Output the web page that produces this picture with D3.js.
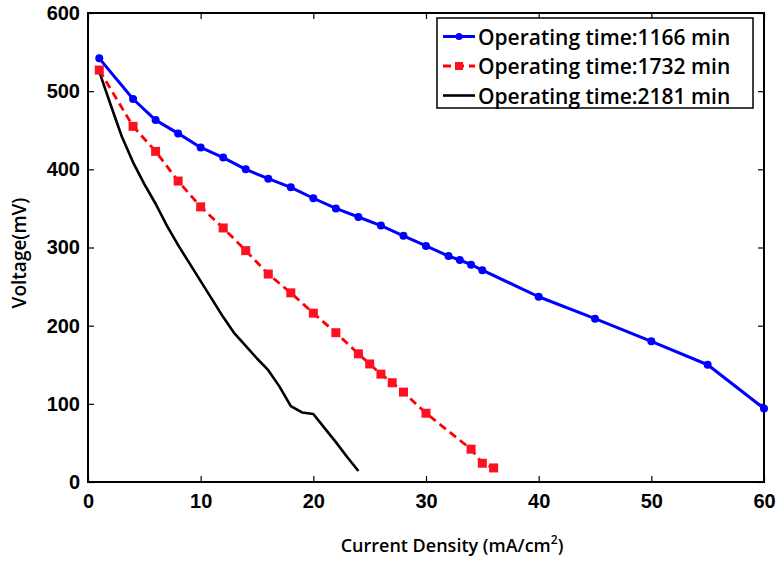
<!DOCTYPE html>
<html>
<head>
<meta charset="utf-8">
<script src="https://cdn.jsdelivr.net/npm/d3@7/dist/d3.min.js"></script>
<style>
  html, body { margin: 0; padding: 0; background: #fff; }
  svg { display: block; font-family: "Open Sans", "DejaVu Sans", sans-serif; }
</style>
</head>
<body>
<svg id="chart" width="778" height="561"></svg>
<script>
// Polarization curves at three operating times
const currentA = [1, 4, 6, 8, 10, 12, 14, 16, 18, 20, 22, 24, 26, 28, 30, 32, 33, 34, 35, 40, 45, 50, 55, 60];
const voltageA = [542, 490, 463, 446, 428, 415, 400, 388, 377, 363, 350, 339, 328, 315, 302, 289, 284, 278, 271, 237, 209, 180, 150, 94];

const currentB = [1, 4, 6, 8, 10, 12, 14, 16, 18, 20, 22, 24, 25, 26, 27, 28, 30, 34, 35, 36];
const voltageB = [527, 455, 423, 385, 352, 325, 296, 266, 242, 216, 191, 164, 151, 138, 127, 115, 88, 42, 24, 18];

const currentC = [1, 2, 3, 4, 5, 6, 7, 8, 9, 10, 11, 12, 13, 14, 15, 16, 17, 18, 19, 20, 21, 22, 23, 24];
const voltageC = [525, 483, 442, 409, 381, 356, 328, 303, 280, 257, 234, 211, 190, 174, 158, 143, 122, 97, 89, 87, 69, 51, 32, 14];

const seriesNames = ["Operating time:1166 min", "Operating time:1732 min", "Operating time:2181 min"];
const xTicks = [0, 10, 20, 30, 40, 50, 60];
const yTicks = [0, 100, 200, 300, 400, 500, 600];

const W = 778, H = 561;
const margin = { left: 88, top: 13, right: 14, bottom: 79 };
const iw = W - margin.left - margin.right;
const ih = H - margin.top - margin.bottom;

const svg = d3.select("#chart");
const g = svg.append("g").attr("transform", `translate(${margin.left},${margin.top})`);

const x = d3.scaleLinear().domain([0, 60]).range([0, iw]);
const y = d3.scaleLinear().domain([0, 600]).range([ih, 0]);

// Ticks pointing inward on all four sides
const tickLen = 6;
const axisBottom = d3.axisBottom(x).tickValues(xTicks).tickSizeInner(-tickLen).tickSizeOuter(0).tickPadding(12);
const axisLeft = d3.axisLeft(y).tickValues(yTicks).tickSizeInner(-tickLen).tickSizeOuter(0).tickPadding(8);
const axisTop = d3.axisTop(x).tickValues(xTicks).tickSizeInner(-tickLen).tickSizeOuter(0).tickFormat("");
const axisRight = d3.axisRight(y).tickValues(yTicks).tickSizeInner(-tickLen).tickSizeOuter(0).tickFormat("");

function styleAxis(sel) {
  sel.select(".domain").remove();
  sel.selectAll(".tick line").attr("stroke", "#000").attr("stroke-width", 1.2);
  sel.selectAll(".tick text")
    .attr("fill", "#000")
    .style("font-size", "20px")
    .style("font-weight", "600");
}

g.append("g").attr("transform", `translate(0,${ih})`).call(axisBottom).call(styleAxis);
g.append("g").call(axisLeft).call(styleAxis);
g.append("g").call(axisTop).call(styleAxis);
g.append("g").attr("transform", `translate(${iw},0)`).call(axisRight).call(styleAxis);

g.selectAll(".tick text").attr("font-family", null);

// Plot frame
g.append("rect")
  .attr("x", 0).attr("y", 0).attr("width", iw).attr("height", ih)
  .attr("fill", "none").attr("stroke", "#000").attr("stroke-width", 2);

// Axis titles
svg.append("text")
  .attr("x", 452).attr("y", 552)
  .attr("text-anchor", "middle")
  .style("font-size", "18px").style("font-weight", "600")
  .call(t => {
    t.append("tspan").text("Current Density (mA/cm");
    t.append("tspan").attr("dy", -8).style("font-size", "12px").text("2");
    t.append("tspan").attr("dy", 8).text(")");
  });

svg.append("text")
  .attr("transform", "translate(26,253) rotate(-90)")
  .attr("text-anchor", "middle")
  .style("font-size", "19px").style("font-weight", "600")
  .text("Voltage(mV)");

const line = d3.line().x(d => x(d[0])).y(d => y(d[1]));

const dataA = currentA.map((c, i) => [c, voltageA[i]]);
const dataB = currentB.map((c, i) => [c, voltageB[i]]);
const dataC = currentC.map((c, i) => [c, voltageC[i]]);

// 2181 min: solid black, no markers
g.append("path").datum(dataC)
  .attr("d", line).attr("fill", "none")
  .attr("stroke", "#000").attr("stroke-width", 2.6).attr("stroke-linejoin", "round");

// 1732 min: red dashed with squares
g.append("path").datum(dataB)
  .attr("d", line).attr("fill", "none")
  .attr("stroke", "#ff0000").attr("stroke-width", 2.8).attr("stroke-dasharray", "8,5");
g.selectAll(".sqB").data(dataB).enter().append("rect")
  .attr("x", d => x(d[0]) - 4.5).attr("y", d => y(d[1]) - 4.5)
  .attr("width", 9).attr("height", 9)
  .attr("fill", "#ff1020");

// 1166 min: blue solid with dots
g.append("path").datum(dataA)
  .attr("d", line).attr("fill", "none")
  .attr("stroke", "#0000ff").attr("stroke-width", 3).attr("stroke-linejoin", "round");
g.selectAll(".dotA").data(dataA).enter().append("circle")
  .attr("cx", d => x(d[0])).attr("cy", d => y(d[1])).attr("r", 4)
  .attr("fill", "#0000ff");

// Legend
const lg = svg.append("g").attr("transform", "translate(437,18)");
lg.append("rect").attr("width", 316).attr("height", 90)
  .attr("fill", "#fff").attr("stroke", "#000").attr("stroke-width", 1.5);
const rows = [
  { stroke: "#0000ff", dash: null, width: 3, marker: "circle" },
  { stroke: "#ff0000", dash: "8,5", width: 2.8, marker: "square" },
  { stroke: "#000", dash: null, width: 2.6, marker: null }
];
rows.forEach((r, i) => {
  const cy = 18.5 + i * 29.5;
  lg.append("line").attr("x1", 6).attr("x2", 38).attr("y1", cy).attr("y2", cy)
    .attr("stroke", r.stroke).attr("stroke-width", r.width)
    .attr("stroke-dasharray", r.dash);
  if (r.marker === "circle") {
    lg.append("circle").attr("cx", 22).attr("cy", cy).attr("r", 3.5).attr("fill", r.stroke);
  } else if (r.marker === "square") {
    lg.append("rect").attr("x", 18).attr("y", cy - 4).attr("width", 8).attr("height", 8).attr("fill", "#ff1020");
  }
  lg.append("text").attr("x", 41).attr("y", cy + 8)
    .style("font-size", "21px").style("font-weight", "600")
    .text(seriesNames[i]);
});
</script>
</body>
</html>
